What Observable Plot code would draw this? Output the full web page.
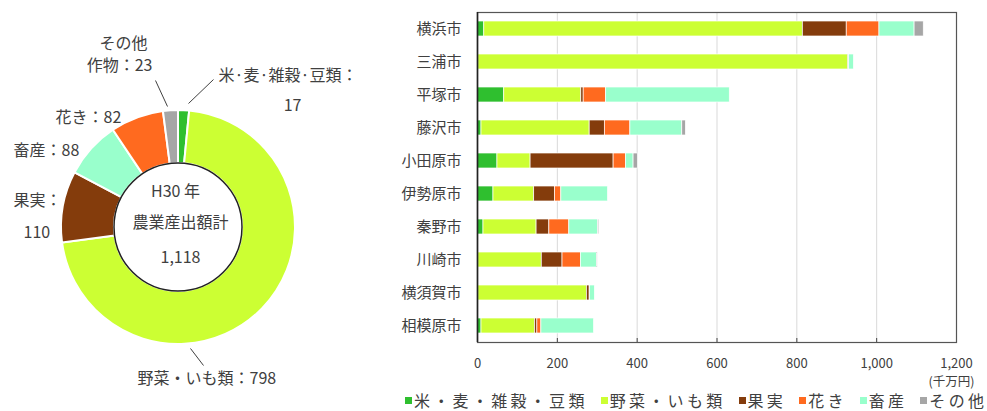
<!DOCTYPE html>
<html><head><meta charset="utf-8">
<script src="https://cdn.jsdelivr.net/npm/d3@7"></script>
<script src="https://cdn.jsdelivr.net/npm/@observablehq/plot@0.6"></script>
<style>
body{margin:0;background:#fff;font-family:"Noto Sans CJK JP","Noto Sans",sans-serif;}
#wrap{position:relative;width:987px;height:411px;overflow:hidden;background:#fff;}
#pie{position:absolute;left:0;top:0;}
#bar{position:absolute;left:400px;top:0;}
#legend{position:absolute;left:405px;top:391px;display:flex;align-items:center;font-size:16px;letter-spacing:3.3px;color:#404040;line-height:19px;white-space:nowrap;}
#legend .item{display:flex;align-items:center;margin-right:13px;}
#legend .sw{width:7px;height:7px;margin-right:2px;}
</style></head><body>
<div id="wrap"><div id="pie"></div><div id="bar"></div><div id="legend"></div></div>
<script>
// ---- data ----
const cities = ["横浜市","三浦市","平塚市","藤沢市","小田原市","伊勢原市","秦野市","川崎市","横須賀市","相模原市"];
const categories = ["米・麦・雑穀・豆類","野菜・いも類","果実","花き","畜産","その他"];
const colors = ["#2fbf2f","#ccff33","#843c0c","#ff6a1f","#99ffcc","#a6a6a6"];
const rice   = [17,   2,  67,  10,  50,  40,  15,   2,   2,  10];
const veg    = [798, 927, 193, 271,  83, 102, 133, 159, 272, 134];
const fruit  = [110,   1,   6,  38, 208,  52,  32,  52,   7,   6];
const flower = [82,    1,  56,  64,  31,  16,  50,  46,   1,  10];
const stock  = [88,   12, 310, 130,  19, 117,  72,  40,  12, 132];
const other  = [23,    0,   0,   9,  11,   0,   3,   2,   0,   0];
const xTicks = [0,200,400,600,800,1000,1200];
const unitLabel = "(千万円)";

const pieNames  = ["米·麦·雑穀·豆類","野菜・いも類","果実","畜産","花き","その他作物"];
const pieValues = [17, 798, 110, 88, 82, 23];
const pieColorIdx = [0, 1, 2, 4, 3, 5];
const centerTitle = ["H30 年", "農業産出額計"];

// ---- bar chart ----
const series = [rice, veg, fruit, flower, stock, other];
const rows = [];
cities.forEach((c, i) => series.forEach((s, j) => rows.push({city: c, cat: categories[j], value: s[i]})));

const txt = "#404040";
const bar = Plot.plot({
  width: 587, height: 411,
  marginLeft: 77, marginRight: 31, marginTop: 12, marginBottom: 69,
  style: {fontFamily: '"Noto Sans CJK JP","Noto Sans",sans-serif', color: txt, background: "white"},
  x: {domain: [0, 1200], label: null},
  y: {domain: cities, paddingInner: 0.545, paddingOuter: 0.2725, label: null},
  color: {domain: categories, range: colors},
  marks: [
    Plot.ruleX(xTicks.slice(1, -1), {stroke: "#d9d9d9", strokeWidth: 1}),
    Plot.barX(rows, Plot.stackX({x: "value", y: "city", fill: "cat", order: categories, stroke: "white", strokeWidth: 0.7})),
    Plot.ruleX(xTicks.slice(1, -1), {insetTop: 326, stroke: "#444", strokeWidth: 1}),
    Plot.frame({stroke: "#555", strokeWidth: 1.2}),
    Plot.ruleX([0], {stroke: "#222", strokeWidth: 1.6}),
    Plot.ruleY([0], {x1: 0, x2: 1200, frameAnchor: "bottom", stroke: "#222", strokeWidth: 1.6}),
    Plot.axisX(xTicks, {tickFormat: d3.format(","), tickSize: 0, tickPadding: 16, fontSize: 13, label: null}),
    Plot.axisY({tickSize: 0, tickPadding: 16, fontSize: 15, label: null}),
    Plot.text([unitLabel], {x: 1200, frameAnchor: "bottom", dy: 43, dx: -5, fontSize: 12.5, fill: txt, text: d => d})
  ]
});
document.getElementById("bar").appendChild(bar);

// ---- legend ----
const lg = document.getElementById("legend");
categories.forEach((c, i) => {
  const it = document.createElement("span"); it.className = "item";
  const sw = document.createElement("span"); sw.className = "sw"; sw.style.background = colors[i];
  const t = document.createElement("span"); t.textContent = c;
  it.appendChild(sw); it.appendChild(t); lg.appendChild(it);
});

// ---- donut ----
const center = {x: 178, y: 227};
const rOuter = 117, rInner = 64;
const pieData = pieNames.map((n, i) => ({name: n, value: pieValues[i], color: colors[pieColorIdx[i]]}));
const total = d3.sum(pieValues);

function donutMark(index, scales, values, dims, context) {
  const cx = scales.x(center.x), cy = scales.y(center.y);
  const g = d3.create("svg:g").attr("transform", `translate(${cx},${cy})`);
  const arcs = d3.pie().sort(null).value(d => d.value)(pieData);
  const arc = d3.arc().innerRadius(rInner).outerRadius(rOuter);
  g.selectAll("path").data(arcs).join("path")
    .attr("d", arc).attr("fill", d => d.data.color)
    .attr("stroke", "white").attr("stroke-width", 2).attr("stroke-linejoin", "round");
  g.append("circle").attr("r", rInner).attr("fill", "white").attr("stroke", "#222").attr("stroke-width", 1.5);
  return g.node();
}

// label layout (positions only)
const startLabels = [
  {x: 218, y: 75,  text: `${pieNames[0]}：`},
  {x: 137, y: 378, text: `${pieNames[1]}：${pieValues[1]}`},
  {x: 13,  y: 200, text: `${pieNames[2]}：`},
  {x: 23,  y: 232, text: `${pieValues[2]}`},
  {x: 13,  y: 150, text: `${pieNames[3]}：${pieValues[3]}`},
  {x: 55,  y: 117, text: `${pieNames[4]}：${pieValues[4]}`}
];
const middleLabels = [
  {x: 292, y: 105, text: `${pieValues[0]}`},
  {x: 123, y: 43,  text: pieNames[5].slice(0, 3)},
  {x: 119, y: 65,  text: `${pieNames[5].slice(3)}：${pieValues[5]}`},
  {x: 175, y: 191, text: centerTitle[0]},
  {x: 180, y: 222, text: centerTitle[1]},
  {x: 180, y: 257, text: d3.format(",")(total)}
];
const leaders = [
  {x1: 213, y1: 79,  x2: 188, y2: 103},
  {x1: 155, y1: 80,  x2: 167, y2: 106},
  {x1: 190, y1: 348, x2: 203, y2: 365}
];

const pie = Plot.plot({
  width: 400, height: 411, margin: 0,
  style: {fontFamily: '"Noto Sans CJK JP","Noto Sans",sans-serif', background: "white"},
  x: {domain: [0, 400], range: [0, 400], axis: null},
  y: {domain: [0, 411], range: [0, 411], axis: null},
  marks: [
    donutMark,
    Plot.link(leaders, {x1: "x1", y1: "y1", x2: "x2", y2: "y2", stroke: "#404040", strokeWidth: 1}),
    Plot.text(startLabels, {x: "x", y: "y", text: "text", textAnchor: "start", fontSize: 16, fill: txt}),
    Plot.text(middleLabels, {x: "x", y: "y", text: "text", textAnchor: "middle", fontSize: 16, fill: txt})
  ]
});
document.getElementById("pie").appendChild(pie);
</script>
</body></html>
